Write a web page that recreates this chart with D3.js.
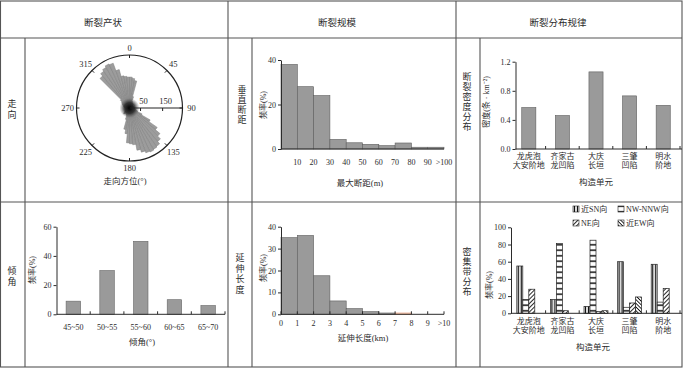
<!DOCTYPE html>
<html>
<head>
<meta charset="utf-8">
<script src="https://cdn.jsdelivr.net/npm/d3@7"></script>
<style>
  body { margin: 0; background: #fff; }
  svg text { font-family: "Liberation Serif", "Noto Sans CJK SC", serif; fill: #2b2b2b; }
</style>
</head>
<body>
<div id="fig"></div>
<script>
// ---- data ----
var roseStep = 5; // degrees per petal
var roseCounts = [140, 135, 126, 54, 32, 27, 23, 22, 18, 22, 18, 18,
                  18, 22, 18, 18, 22, 18, 22, 22, 27, 32, 40, 63,
                  108, 153, 180, 198, 212, 216, 220, 216, 207, 194, 167, 162,
                  158, 117, 99, 54, 36, 32, 32, 27, 36, 36, 27, 22,
                  22, 18, 18, 22, 18, 18, 22, 22, 27, 27, 32, 36,
                  40, 45, 54, 189, 203, 212, 220, 216, 180, 148, 144, 140];
var roseDirs = [0, 45, 90, 135, 180, 225, 270, 315];
var roseRadialTicks = [50, 150];

var dipBins = ["45~50", "50~55", "55~60", "60~65", "65~70"];
var dipFreq = [9, 30, 50, 10, 6];

var throwBinStart = [0, 10, 20, 30, 40, 50, 60, 70, 80, 90];
var throwFreq = [38, 28, 24, 4.3, 2.8, 2.1, 1.5, 2.7, 0.8, 0.8];
var throwTicks = [10, 20, 30, 40, 50, 60, 70, 80, 90, 100];
var throwTickLabels = ["10", "20", "30", "40", "50", "60", "70", "80", "90", ">100"];

var lenBinStart = [0, 1, 2, 3, 4, 5, 6, 7];
var lenFreq = [35, 36, 17.6, 6.1, 2.6, 1.2, 0.6, 0.6];
var lenTicks = [0, 1, 2, 3, 4, 5, 6, 7, 8, 9, 10];
var lenTickLabels = ["0", "1", "2", "3", "4", "5", "6", "7", "8", "9", ">10"];

var unitsLine1 = ["龙虎泡", "齐家古", "大庆", "三肇", "明水"];
var unitsLine2 = ["大安阶地", "龙凹陷", "长垣", "凹陷", "阶地"];
var density = [0.57, 0.46, 1.06, 0.73, 0.60];

var strikeSeries = ["近SN向", "NW-NNW向", "NE向", "近EW向"];
var shareSN = [55, 16, 8, 60, 57];
var shareNW = [16, 81, 85, 7, 13];
var shareNE = [28, 3, 2, 12, 29];
var shareEW = [0, 0, 3, 19, 0];

// ---- page ----
var ink = "#2b2b2b";
var font = '"Liberation Serif", "Noto Sans CJK SC", serif';
var svg = d3.select("#fig").append("svg")
  .attr("width", 700)
  .attr("height", 368);

function txt(g, s, x, y, size, anchor) {
  return g.append("text")
    .attr("x", x).attr("y", y)
    .attr("font-size", size)
    .attr("text-anchor", anchor || "middle")
    .attr("dominant-baseline", "central")
    .text(s);
}
// stacked vertical chinese label
function vtxt(g, s, x, yc, size, step) {
  var chars = Array.from(s);
  var y0 = yc - (chars.length - 1) * step / 2;
  chars.forEach((c, i) => txt(g, c, x, y0 + i * step, size));
}
function ylab(g, s, x, yc) {
  g.append("text")
    .attr("transform", "translate(" + x + "," + yc + ") rotate(-90)")
    .attr("text-anchor", "middle")
    .attr("dominant-baseline", "central")
    .attr("font-size", 8)
    .text(s);
}
function styleAxis(sel) {
  sel.attr("font-family", font).attr("font-size", 8);
  sel.selectAll("path,line").attr("stroke", ink);
  sel.selectAll("text").attr("fill", ink);
}
function hline(g, x1, x2, y) {
  g.append("line").attr("x1", x1).attr("x2", x2).attr("y1", y).attr("y2", y)
    .attr("stroke", ink).attr("stroke-width", 1);
}

// ---- table frame ----
var grid = svg.append("g").attr("stroke", "#555").attr("stroke-width", 1.1).attr("fill", "none");
grid.append("rect").attr("x", 0.5).attr("y", 1).attr("width", 681.5).attr("height", 366);
[[0, 38, 682, 38], [0, 202, 682, 202], [25, 38, 25, 367], [228, 1, 228, 367],
 [252, 38, 252, 367], [456, 1, 456, 367], [480, 38, 480, 367]].forEach(function (l) {
  grid.append("line").attr("x1", l[0]).attr("y1", l[1]).attr("x2", l[2]).attr("y2", l[3]);
});

var lab = svg.append("g");
txt(lab, "断裂产状", 103, 23, 9.5);
txt(lab, "断裂规模", 337, 23, 9.5);
txt(lab, "断裂分布规律", 558, 23, 9.5);
vtxt(lab, "走向", 12, 109, 9, 11);
vtxt(lab, "倾角", 12, 276, 9, 11);
vtxt(lab, "垂直断距", 242, 105, 9, 10);
vtxt(lab, "延伸长度", 240, 274, 9, 10.5);
vtxt(lab, "断裂密度分布", 467, 102, 9, 10);
vtxt(lab, "密集带分布", 467, 272, 9, 10);

// ---- rose diagram ----
var cx = 129.5, cy = 108, R = 53;
var r = d3.scaleLinear().domain([0, 240]).range([0, R]);
var arc = d3.arc().innerRadius(0);
var defs = svg.append("defs");
var core = defs.append("radialGradient").attr("id", "core");
core.append("stop").attr("offset", "0%").attr("stop-color", "#000").attr("stop-opacity", 1);
core.append("stop").attr("offset", "55%").attr("stop-color", "#222").attr("stop-opacity", 0.8);
core.append("stop").attr("offset", "100%").attr("stop-color", "#555").attr("stop-opacity", 0);

var rose = svg.append("g").attr("transform", "translate(" + cx + "," + cy + ")");
rose.selectAll("path.petal")
  .data(roseCounts)
  .join("path")
  .attr("class", "petal")
  .attr("d", (d, i) => arc({
    outerRadius: r(d),
    startAngle: i * roseStep * Math.PI / 180,
    endAngle: (i + 1) * roseStep * Math.PI / 180
  }))
  .attr("fill", "#9c9c9c")
  .attr("stroke", "#7c7c7c")
  .attr("stroke-width", 0.5);
rose.append("circle").attr("r", 10).attr("fill", "url(#core)");
rose.append("circle").attr("r", R).attr("fill", "none").attr("stroke", "#222").attr("stroke-width", 1.2);
roseDirs.forEach(function (a) {
  var t = a * Math.PI / 180;
  rose.append("line")
    .attr("x1", Math.sin(t) * (R - 3)).attr("y1", -Math.cos(t) * (R - 3))
    .attr("x2", Math.sin(t) * R).attr("y2", -Math.cos(t) * R)
    .attr("stroke", "#222");
  var lr = (a % 180 === 0) ? 60 : 62;
  txt(rose, String(a), Math.sin(t) * lr, -Math.cos(t) * lr, 8.5);
});
rose.append("line").attr("x1", 0).attr("x2", R).attr("y1", 0).attr("y2", 0)
  .attr("stroke", "#222").attr("stroke-width", 1);
roseRadialTicks.forEach(function (v) {
  rose.append("line").attr("x1", r(v)).attr("x2", r(v)).attr("y1", 0).attr("y2", 3).attr("stroke", "#222");
  txt(rose, String(v), r(v) + 3, -7, 8.5);
});
txt(lab, "走向方位(°)", 125, 181, 8.5);

// ---- dip angle bars ----
var gB = svg.append("g");
var xB = d3.scaleBand().domain(dipBins).range([56.5, 225]).paddingInner(0.57).paddingOuter(0.285);
var yB = d3.scaleLinear().domain([0, 60]).range([314.3, 226.7]);
gB.selectAll("rect").data(dipFreq).join("rect")
  .attr("x", (d, i) => xB(dipBins[i]))
  .attr("y", d => yB(d))
  .attr("width", xB.bandwidth())
  .attr("height", d => yB(0) - yB(d))
  .attr("fill", "#9a9a9a").attr("stroke", "#666").attr("stroke-width", 0.6);
gB.append("g").attr("transform", "translate(56.5,0)")
  .call(d3.axisLeft(yB).tickValues([0, 20, 40, 60]).tickSize(3).tickSizeOuter(0).tickPadding(2))
  .call(styleAxis);
hline(gB, 56.5, 225, yB(0));
dipBins.forEach(function (d, i) {
  var bx = 56.5 + (i + 1) * xB.step();
  gB.append("line").attr("x1", bx).attr("x2", bx).attr("y1", yB(0)).attr("y2", yB(0) - 3).attr("stroke", ink);
  txt(gB, d, xB(d) + xB.bandwidth() / 2, 327.5, 8);
});
ylab(gB, "频率(%)", 32, 270);
txt(gB, "倾角(°)", 142, 342, 8.5);

// ---- vertical throw histogram ----
var gC = svg.append("g");
var xC = d3.scaleLinear().domain([0, 100]).range([281, 444]);
var yC = d3.scaleLinear().domain([0, 40]).range([149, 60]);
gC.selectAll("rect").data(throwFreq).join("rect")
  .attr("x", (d, i) => xC(throwBinStart[i]))
  .attr("y", d => yC(d))
  .attr("width", xC(10) - xC(0))
  .attr("height", d => yC(0) - yC(d))
  .attr("fill", "#9a9a9a").attr("stroke", "#5e5e5e").attr("stroke-width", 0.6);
gC.append("g").attr("transform", "translate(281,0)")
  .call(d3.axisLeft(yC).tickValues([0, 20, 40]).tickSize(3).tickSizeOuter(0).tickPadding(2))
  .call(styleAxis);
hline(gC, 281, 444, yC(0));
throwTicks.forEach((t, i) => txt(gC, throwTickLabels[i], xC(t), 162, 8));
ylab(gC, "频率(%)", 263, 105);
txt(gC, "最大断距(m)", 360, 182.5, 8.5);

// ---- extension length histogram ----
var gD = svg.append("g");
var xD = d3.scaleLinear().domain([0, 10]).range([281, 444]);
var yD = d3.scaleLinear().domain([0, 40]).range([314.3, 226.7]);
gD.selectAll("rect").data(lenFreq).join("rect")
  .attr("x", (d, i) => xD(lenBinStart[i]))
  .attr("y", d => yD(d))
  .attr("width", xD(1) - xD(0))
  .attr("height", d => yD(0) - yD(d))
  .attr("fill", (d, i) => lenBinStart[i] === 7 ? "#f2cbb6" : "#9a9a9a")
  .attr("stroke", (d, i) => lenBinStart[i] === 7 ? "#e59a78" : "#5e5e5e")
  .attr("stroke-width", 0.6);
gD.append("g").attr("transform", "translate(281,0)")
  .call(d3.axisLeft(yD).tickValues([0, 10, 20, 30, 40]).tickSize(3).tickSizeOuter(0).tickPadding(2))
  .call(styleAxis);
hline(gD, 281, 444, yD(0));
lenTicks.forEach(function (t, i) {
  gD.append("line").attr("x1", xD(t)).attr("x2", xD(t)).attr("y1", yD(0)).attr("y2", yD(0) - 3).attr("stroke", ink);
  txt(gD, lenTickLabels[i], xD(t), 323.5, 8);
});
ylab(gD, "频率(%)", 263, 268);
txt(gD, "延伸长度(km)", 363, 338, 8.5);

// ---- fault density ----
var gE = svg.append("g");
var xE = d3.scaleBand().domain(unitsLine1).range([512, 680]).paddingInner(0.58).paddingOuter(0.29);
var yE = d3.scaleLinear().domain([0, 1.2]).range([149, 61.7]);
gE.selectAll("rect").data(density).join("rect")
  .attr("x", (d, i) => xE(unitsLine1[i]))
  .attr("y", d => yE(d))
  .attr("width", xE.bandwidth())
  .attr("height", d => yE(0) - yE(d))
  .attr("fill", "#9a9a9a").attr("stroke", "#5e5e5e").attr("stroke-width", 0.6);
gE.append("g").attr("transform", "translate(515.5,0)")
  .call(d3.axisLeft(yE).tickValues([0, 0.4, 0.8, 1.2]).tickFormat(d3.format(".1f")).tickSize(3).tickSizeOuter(0).tickPadding(2))
  .call(styleAxis);
hline(gE, 515.5, 682, yE(0));
unitsLine1.forEach(function (u, i) {
  var bx = 512 + (i + 1) * xE.step();
  gE.append("line").attr("x1", bx).attr("x2", bx).attr("y1", yE(0)).attr("y2", yE(0) - 3).attr("stroke", ink);
  var c = xE(u) + xE.bandwidth() / 2;
  txt(gE, u, c, 156, 8);
  txt(gE, unitsLine2[i], c, 165, 8);
});
ylab(gE, "密度(条 · km⁻²)", 486, 102);
txt(gE, "构造单元", 596, 182, 8.5);

// ---- strike shares, hatched groups ----
function pattern(id, w, h, rot, lineW, horizontal) {
  var p = defs.append("pattern").attr("id", id)
    .attr("patternUnits", "userSpaceOnUse")
    .attr("width", w).attr("height", h);
  if (rot) p.attr("patternTransform", "rotate(" + rot + ")");
  p.append("rect").attr("width", w).attr("height", h).attr("fill", "#fff");
  if (horizontal) {
    p.append("line").attr("x1", 0).attr("x2", w).attr("y1", h / 2).attr("y2", h / 2)
      .attr("stroke", "#111").attr("stroke-width", lineW);
  } else {
    p.append("line").attr("x1", w / 2).attr("x2", w / 2).attr("y1", 0).attr("y2", h)
      .attr("stroke", "#111").attr("stroke-width", lineW);
  }
}
pattern("pSN", 3, 3, 0, 1.3, false);
pattern("pNW", 6, 5.5, 0, 1.5, true);
pattern("pNE", 3, 3, 45, 0.9, false);
pattern("pEW", 2.6, 2.6, -45, 0.9, false);
var fills = ["url(#pSN)", "url(#pNW)", "url(#pNE)", "url(#pEW)"];

var gF = svg.append("g");
var xF = d3.scaleBand().domain(unitsLine1).range([512, 680]).paddingInner(0.286).paddingOuter(0.143);
var xF1 = d3.scaleBand().domain(strikeSeries).range([0, xF.bandwidth()]);
var yF = d3.scaleLinear().domain([0, 100]).range([313.3, 227.3]);
var shares = [shareSN, shareNW, shareNE, shareEW];
unitsLine1.forEach(function (u, i) {
  var grp = gF.append("g").attr("transform", "translate(" + xF(u) + ",0)");
  grp.selectAll("rect")
    .data(strikeSeries.map((s, k) => ({ s: s, v: shares[k][i], k: k })).filter(d => d.v > 0))
    .join("rect")
    .attr("x", d => xF1(d.s))
    .attr("y", d => yF(d.v))
    .attr("width", xF1.bandwidth())
    .attr("height", d => yF(0) - yF(d.v))
    .attr("fill", d => fills[d.k])
    .attr("stroke", "#222").attr("stroke-width", 0.7);
});
gF.append("g").attr("transform", "translate(511,0)")
  .call(d3.axisLeft(yF).tickValues([0, 20, 40, 60, 80, 100]).tickSize(3).tickSizeOuter(0).tickPadding(2))
  .call(styleAxis);
hline(gF, 511, 682, yF(0));
unitsLine1.forEach(function (u, i) {
  var bx = 512 + (i + 1) * xF.step();
  gF.append("line").attr("x1", bx).attr("x2", bx).attr("y1", yF(0)).attr("y2", yF(0) - 3).attr("stroke", ink);
  var c = xF(u) + xF.bandwidth() / 2;
  txt(gF, u, c, 321.5, 8);
  txt(gF, unitsLine2[i], c, 330.5, 8);
});
ylab(gF, "频率(%)", 489, 285);
txt(gF, "构造单元", 593, 346.5, 8.5);

// legend, 2 x 2
var legPos = [[573, 209], [618, 209], [573, 223], [618, 223]];
strikeSeries.forEach(function (s, k) {
  var lg = gF.append("g").attr("transform", "translate(" + legPos[k][0] + "," + legPos[k][1] + ")");
  lg.append("rect").attr("x", 0).attr("y", -3).attr("width", 6).attr("height", 6)
    .attr("fill", fills[k]).attr("stroke", "#222").attr("stroke-width", 0.6);
  txt(lg, s, 8, 0, 8, "start");
});
</script>
</body>
</html>
